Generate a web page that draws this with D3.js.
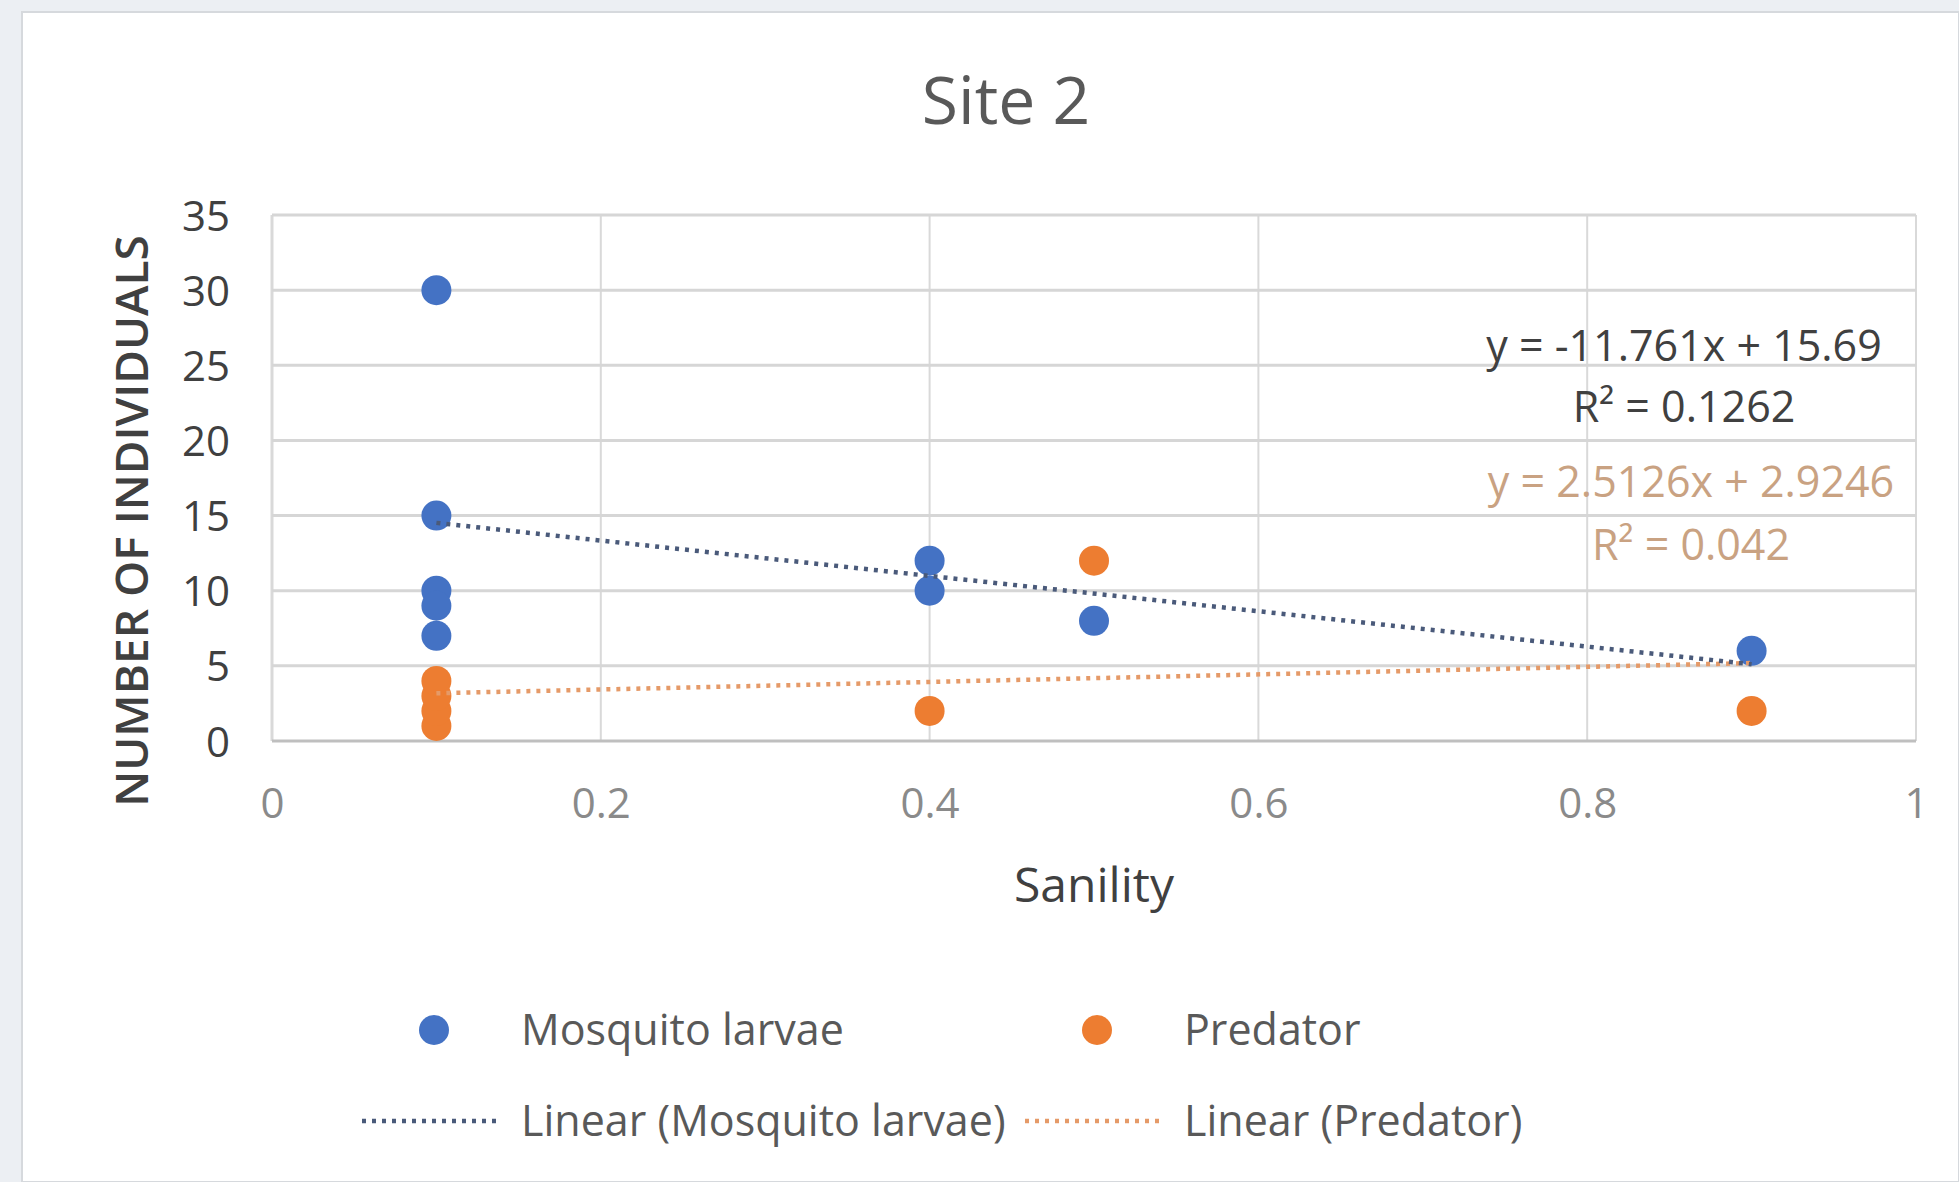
<!DOCTYPE html>
<html>
<head>
<meta charset="utf-8">
<script src="https://cdn.jsdelivr.net/npm/d3@7"></script>
<style>
  body { margin: 0; background: #eceff3; }
  svg { display: block; }
  text { font-family: "Open Sans", sans-serif; }
</style>
</head>
<body>
<div id="chart"></div>
<script>
// data
const xTicks = [0, 0.2, 0.4, 0.6, 0.8, 1];
const yTicks = [0, 5, 10, 15, 20, 25, 30, 35];
const mosquitoX = [0.1, 0.1, 0.1, 0.1, 0.1, 0.4, 0.4, 0.5, 0.9];
const mosquitoY = [30, 15, 10, 9, 7, 12, 10, 8, 6];
const predatorX = [0.1, 0.1, 0.1, 0.1, 0.4, 0.5, 0.9];
const predatorY = [1, 2, 3, 4, 2, 12, 2];
// trendline slope / intercept as printed on the chart
const mosquitoTrend = [-11.761, 15.69];
const predatorTrend = [2.5126, 2.9246];
const mosquitoLabels = ['y = -11.761x + 15.69', 'R² = 0.1262'];
const predatorLabels = ['y = 2.5126x + 2.9246', 'R² = 0.042'];

const width = 1959;
const height = 1182;
const margin = { top: 215, right: 43, bottom: 441, left: 272 };

const blue = '#4472c4';
const orange = '#ed7d31';
const blueTrend = '#4a5a7a';
const orangeTrend = '#e59a68';

const svg = d3.select('#chart')
  .append('svg')
  .attr('width', width)
  .attr('height', height);

svg.append('rect')
  .attr('x', 22).attr('y', 12)
  .attr('width', width - 22).attr('height', height - 12)
  .attr('fill', '#fff')
  .attr('stroke', '#d6d9dd')
  .attr('stroke-width', 2);

const x = d3.scaleLinear()
  .domain([0, 1])
  .range([margin.left, width - margin.right]);
const y = d3.scaleLinear()
  .domain([0, 35])
  .range([height - margin.bottom, margin.top]);

// grid
svg.append('g')
  .selectAll('line')
  .data(xTicks)
  .join('line')
  .attr('x1', d => x(d)).attr('x2', d => x(d))
  .attr('y1', y(35)).attr('y2', y(0))
  .attr('stroke', '#d9d9d9')
  .attr('stroke-width', d => d === 0 ? 3 : 2);

svg.append('g')
  .selectAll('line')
  .data(yTicks.filter(d => d > 0))
  .join('line')
  .attr('x1', x(0)).attr('x2', x(1))
  .attr('y1', d => y(d)).attr('y2', d => y(d))
  .attr('stroke', '#d6d6d6')
  .attr('stroke-width', 3);

svg.append('line')
  .attr('x1', x(0)).attr('x2', x(1))
  .attr('y1', y(0)).attr('y2', y(0))
  .attr('stroke', '#bfbfbf')
  .attr('stroke-width', 3);

// axes labels
const xAxis = svg.append('g')
  .attr('transform', `translate(0,${y(0) + 44})`)
  .call(d3.axisBottom(x).tickValues(xTicks).tickSize(0).tickFormat(d3.format('')));
xAxis.select('.domain').remove();
xAxis.selectAll('text')
  .attr('dy', '0.71em')
  .attr('font-size', 42)
  .attr('font-family', '"Open Sans", sans-serif')
  .attr('fill', '#8a8a8a');

const yAxis = svg.append('g')
  .attr('transform', `translate(${x(0) - 42},0)`)
  .call(d3.axisLeft(y).tickValues(yTicks).tickSize(0));
yAxis.select('.domain').remove();
yAxis.selectAll('text')
  .attr('x', 0)
  .attr('dy', '0.36em')
  .attr('font-size', 42)
  .attr('font-family', '"Open Sans", sans-serif')
  .attr('fill', '#404040');

// titles
svg.append('text')
  .attr('x', 1006).attr('y', 100)
  .attr('dy', '0.36em')
  .attr('text-anchor', 'middle')
  .attr('font-size', 66)
  .attr('fill', '#595959')
  .text('Site 2');

svg.append('text')
  .attr('x', (x(0) + x(1)) / 2).attr('y', 885)
  .attr('dy', '0.36em')
  .attr('text-anchor', 'middle')
  .attr('font-size', 48)
  .attr('fill', '#404040')
  .text('Sanility');

svg.append('text')
  .attr('transform', 'translate(131,521) rotate(-90)')
  .attr('dy', '0.36em')
  .attr('text-anchor', 'middle')
  .attr('font-size', 46)
  .attr('font-weight', 600)
  .attr('fill', '#404040')
  .text('NUMBER OF INDIVIDUALS');

// points
const r = 15;
svg.append('g')
  .selectAll('circle')
  .data(mosquitoX.map((d, i) => [d, mosquitoY[i]]))
  .join('circle')
  .attr('cx', d => x(d[0]))
  .attr('cy', d => y(d[1]))
  .attr('r', r)
  .attr('fill', blue);

svg.append('g')
  .selectAll('circle')
  .data(predatorX.map((d, i) => [d, predatorY[i]]))
  .join('circle')
  .attr('cx', d => x(d[0]))
  .attr('cy', d => y(d[1]))
  .attr('r', r)
  .attr('fill', orange);

// trendlines
const trend = (xs, c) => {
  const ext = d3.extent(xs);
  return ext.map(v => [v, c[0] * v + c[1]]);
};
const line = d3.line().x(d => x(d[0])).y(d => y(d[1]));

svg.append('path')
  .attr('d', line(trend(predatorX, predatorTrend)))
  .attr('fill', 'none')
  .attr('stroke', orangeTrend)
  .attr('stroke-width', 4.5)
  .attr('stroke-dasharray', '4 6');

svg.append('path')
  .attr('d', line(trend(mosquitoX, mosquitoTrend)))
  .attr('fill', 'none')
  .attr('stroke', blueTrend)
  .attr('stroke-width', 4.5)
  .attr('stroke-dasharray', '4 6');

// trendline equations
svg.append('g')
  .selectAll('text')
  .data(mosquitoLabels)
  .join('text')
  .attr('x', 1684)
  .attr('y', (d, i) => 346 + i * 61)
  .attr('dy', '0.36em')
  .attr('text-anchor', 'middle')
  .attr('font-size', 43)
  .attr('fill', '#404040')
  .text(d => d);

svg.append('g')
  .selectAll('text')
  .data(predatorLabels)
  .join('text')
  .attr('x', 1691)
  .attr('y', (d, i) => 482 + i * 63)
  .attr('dy', '0.36em')
  .attr('text-anchor', 'middle')
  .attr('font-size', 43)
  .attr('fill', '#c9a282')
  .text(d => d);

// legend
const legend = svg.append('g');
const rows = [
  { kind: 'dot', color: blue, label: 'Mosquito larvae', x: 434, y: 1030 },
  { kind: 'dot', color: orange, label: 'Predator', x: 1097, y: 1030 },
  { kind: 'line', color: blueTrend, label: 'Linear (Mosquito larvae)', x: 430, y: 1121 },
  { kind: 'line', color: orangeTrend, label: 'Linear (Predator)', x: 1093, y: 1121 }
];
rows.forEach(d => {
  if (d.kind === 'dot') {
    legend.append('circle')
      .attr('cx', d.x).attr('cy', d.y).attr('r', r)
      .attr('fill', d.color);
  } else {
    legend.append('line')
      .attr('x1', d.x - 68).attr('x2', d.x + 68)
      .attr('y1', d.y).attr('y2', d.y)
      .attr('stroke', d.color)
      .attr('stroke-width', 4.5)
      .attr('stroke-dasharray', '4 6');
  }
  legend.append('text')
    .attr('x', d.x + (d.kind === 'dot' ? 87 : 91))
    .attr('y', d.y)
    .attr('dy', '0.36em')
    .attr('font-size', 43)
    .attr('fill', '#595959')
    .text(d.label);
});
</script>
</body>
</html>
